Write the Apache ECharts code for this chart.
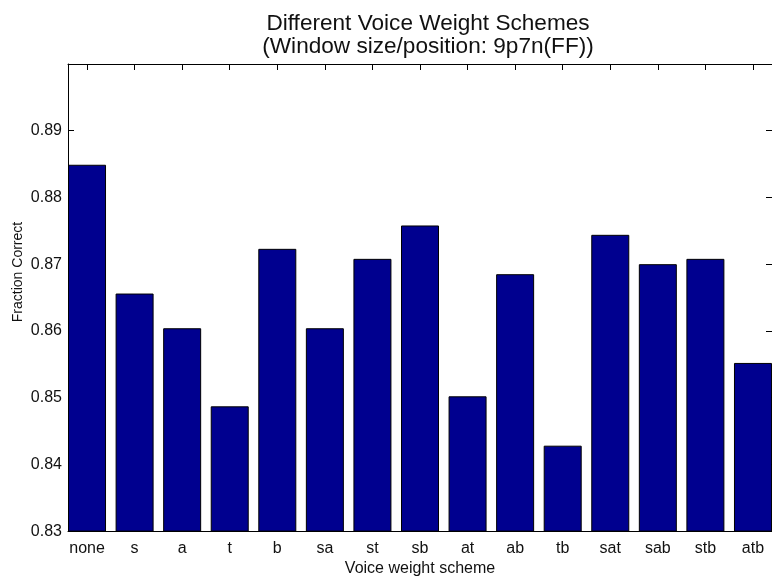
<!DOCTYPE html>
<html>
<head>
<meta charset="utf-8">
<title>Different Voice Weight Schemes</title>
<script src="https://cdn.jsdelivr.net/npm/echarts@6/dist/echarts.min.js"></script>
<style>
  html, body { margin: 0; padding: 0; background: #fff; }
  #chart { width: 772px; height: 582px; }
</style>
</head>
<body>
<div id="chart"></div>
<script>
// Voice weight schemes and the fraction of correct results for each
const schemes = ['none', 's', 'a', 't', 'b', 'sa', 'st', 'sb', 'at', 'ab', 'tb', 'sat', 'sab', 'stb', 'atb'];
const fractionCorrect = [0.8849, 0.8656, 0.8604, 0.8487, 0.8723, 0.8604, 0.8708, 0.8758, 0.8502, 0.8685, 0.8428, 0.8744, 0.8700, 0.8708, 0.8552];
const yTicks = [0.83, 0.84, 0.85, 0.86, 0.87, 0.88, 0.89];

const FONT = '"Liberation Sans", Arial, Helvetica, sans-serif';
const positions = schemes.map((_, i) => i + 1);

const chart = echarts.init(document.getElementById('chart'), null, { renderer: 'canvas' });

const baseX = {
  type: 'value',
  min: 0.6,
  max: 15.4,
  splitLine: { show: false },
  axisLine: { show: true, onZero: false, lineStyle: { color: '#000', width: 1 } },
  axisTick: { show: true, inside: true, length: 6, customValues: positions, lineStyle: { color: '#000' } }
};
const baseY = {
  type: 'value',
  min: 0.83,
  max: 0.90,
  splitLine: { show: false },
  axisLine: { show: true, onZero: false, lineStyle: { color: '#000', width: 1 } },
  axisTick: { show: true, inside: true, length: 6, customValues: yTicks, lineStyle: { color: '#000' } }
};

chart.setOption({
  animation: false,
  backgroundColor: '#fff',
  title: {
    text: 'Different Voice Weight Schemes\n(Window size/position: 9p7n(FF))',
    left: 423,
    top: 8,
    textAlign: 'center',
    textStyle: { fontFamily: FONT, fontSize: 22.6, fontWeight: 'normal', color: '#111', lineHeight: 22.3 }
  },
  grid: { left: 68, top: 64, right: -3, bottom: 43, containLabel: false },
  graphic: [{
    type: 'text',
    x: 18,
    y: 272,
    rotation: Math.PI / 2,
    style: {
      text: 'Fraction Correct',
      fontFamily: FONT,
      fontSize: 14,
      fill: '#111',
      align: 'center',
      verticalAlign: 'middle'
    },
    silent: true
  }],
  xAxis: [
    Object.assign({}, baseX, {
      position: 'bottom',
      name: 'Voice weight scheme',
      nameLocation: 'middle',
      nameGap: 27,
      nameTextStyle: { fontFamily: FONT, fontSize: 16, color: '#111' },
      axisLabel: {
        show: true,
        margin: 9,
        customValues: positions,
        fontFamily: FONT,
        fontSize: 16,
        color: '#111',
        formatter: v => schemes[Math.round(v) - 1] || ''
      }
    }),
    Object.assign({}, baseX, { position: 'top', axisLabel: { show: false } })
  ],
  yAxis: [
    Object.assign({}, baseY, {
      position: 'left',
      axisLabel: {
        show: true,
        margin: 6,
        customValues: yTicks,
        fontFamily: FONT,
        fontSize: 16,
        color: '#111',
        formatter: v => v.toFixed(2)
      }
    }),
    Object.assign({}, baseY, { position: 'right', axisLabel: { show: false } })
  ],
  series: [{
    type: 'bar',
    xAxisIndex: 0,
    yAxisIndex: 0,
    barWidth: 38,
    data: positions.map((p, i) => [p, fractionCorrect[i]]),
    itemStyle: { color: '#00008f', borderColor: '#000', borderWidth: 1 },
    silent: true
  }]
});
</script>
</body>
</html>
